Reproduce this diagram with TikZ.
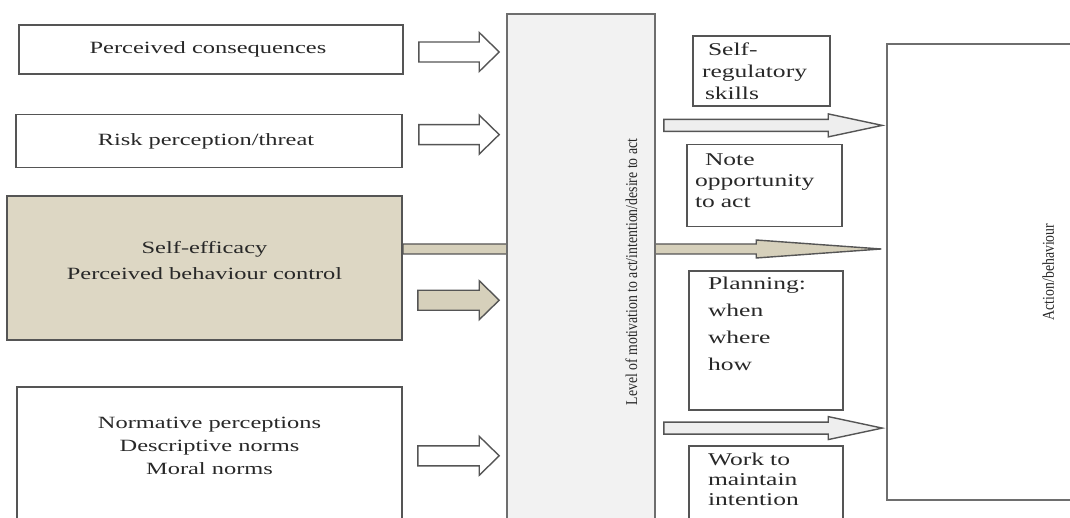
\documentclass[tikz,border=0pt]{standalone}
\usepackage{fontspec}
\setmainfont{Liberation Serif}[FakeStretch=1.42]
\newfontfamily\rotfont{Liberation Serif}
\usetikzlibrary{
  positioning,
  calc,
  backgrounds}

\definecolor{linecolor}{RGB}{85,85,85}
\definecolor{textcolor}{RGB}{40,40,40}
\definecolor{efficacycolor}{RGB}{221,215,196}
\definecolor{tanarrowcolor}{RGB}{214,208,187}
\definecolor{levelcolor}{RGB}{242,242,242}
\definecolor{outarrowcolor}{RGB}{238,238,238}

\tikzset{
  %% block_arrow : a fat arrow, drawn as a closed outline
  %% use as  \draw [in_arrow] (start) to (end);
  ba shaft/.store in=\bashaft,
  ba head/.store in=\bahead,
  ba len/.store in=\balen,
  block_arrow/.style={
    draw=linecolor,
    line width=0.7pt,
    to path={
      let \p1=(\tikztostart), \p2=(\tikztotarget) in
      (\x1, \y1+\bashaft) -- (\x2-\balen, \y1+\bashaft)
      -- (\x2-\balen, \y1+\bahead) -- (\x2, \y1)
      -- (\x2-\balen, \y1-\bahead) -- (\x2-\balen, \y1-\bashaft)
      -- (\x1, \y1-\bashaft) -- cycle
    }
  },
  %% in_arrow : from a belief to the motivation column
  in_arrow/.style={
    block_arrow,
    fill=white,
    ba shaft=5pt,
    ba head=9.75pt,
    ba len=10pt
  },
  %% out_arrow : from the motivation column to the action
  out_arrow/.style={
    block_arrow,
    fill=outarrowcolor,
    ba shaft=3pt,
    ba head=5.75pt,
    ba len=27pt
  },
  %% long_arrow : self-efficacy straight through to the action
  long_arrow/.style={
    block_arrow,
    fill=tanarrowcolor,
    ba shaft=2.5pt,
    ba head=4.5pt,
    ba len=62.5pt
  }
}
\tikzset{
  %% belief : the boxes on the left
  belief/.style={
    rectangle,
    draw=linecolor,
    line width=0.8pt,
    text=textcolor,
    font=\fontsize{8.6}{11.5}\selectfont,
    align=center
  },
  %% strategy : the small boxes between the arrows on the right
  strategy/.style={
    rectangle,
    draw=linecolor,
    line width=0.8pt,
    text=textcolor,
    inner xsep=4pt,
    font=\fontsize{9}{11}\selectfont,
    align=left
  },
  %% column : the two tall boxes
  column/.style={
    rectangle,
    draw=linecolor!85,
    line width=0.8pt,
    text=textcolor,
    font=\rotfont\fontsize{6.9}{8}\selectfont,
    align=center
  }
}

\begin{document}
\begin{tikzpicture}
  [x=0.5pt,
  y=-0.5pt,
  node distance=10pt and 10pt]

  \useasboundingbox (0, 0) rectangle (1070, 518);
  \clip (0, 0) rectangle (1070, 518);

  %% Beliefs
  \node (conseq) [belief, minimum width=192pt, minimum height=24.5pt] at (211, 49.5){%
    Perceived consequences
  };

  \node (risk) [below=19.5pt of conseq, xshift=-1pt, belief,
    minimum width=193pt, minimum height=26.5pt]{%
    Risk perception/threat
  };

  \node (efficacy) [below=13.5pt of risk, xshift=-2.25pt, belief, fill=efficacycolor,
    minimum width=197.5pt, minimum height=72pt,
    font=\fontsize{8.6}{13}\selectfont]{%
    Self-efficacy\\Perceived behaviour control\\[-5.5pt]\mbox{}
  };

  \node (norms) [below=22.5pt of efficacy, xshift=2.5pt, belief,
    minimum width=192.5pt, minimum height=66.5pt]{%
    Normative perceptions\\Descriptive norms\\Moral norms\\[-4.5pt]\mbox{}
  };

  %% Motivation and action
  \node (level) [column, fill=levelcolor, minimum width=74pt, minimum height=258pt]
    at (581, 272){%
    \hspace*{52pt}\rotatebox{90}{\scalebox{1}[1.2]{Level of motivation to act/intention/desire to act}}
  };

  \node (action) [column, fill=white, minimum width=163pt, minimum height=228pt]
    at (1050, 272){%
    \rotatebox{90}{\scalebox{1}[1.2]{Action/behaviour}}
  };

  %% Strategies
  \node (selfreg) [strategy, text width=60.5pt, minimum height=35pt] at (761.5, 71){%
    \hspace*{3.5pt}Self-\\\hspace*{0.5pt}regulatory\\\hspace*{2pt}skills
  };

  \node (note) [below=18.5pt of selfreg, xshift=1.5pt, strategy,
    text width=69.5pt, minimum height=41pt,
    font=\fontsize{9}{10.7}\selectfont]{%
    \hspace*{5pt}Note\\opportunity\\to act\\[-5.7pt]\mbox{}
  };

  \node (planning) [below=21.5pt of note, xshift=0.75pt, strategy, inner xsep=9.5pt,
    inner ysep=0pt, text width=58pt, minimum height=69.5pt,
    font=\fontsize{9}{13.5}\selectfont]{%
    Planning:\\when\\where\\how\\[4pt]\mbox{}
  };

  \node (work) [below=17pt of planning, strategy, inner xsep=9.5pt,
    text width=58pt, minimum height=39.5pt,
    font=\fontsize{9}{10}\selectfont]{%
    Work to\\maintain\\intention\\[-2pt]\mbox{}
  };

  %% Connections
  \coordinate (gap1) at ($(selfreg.south)!0.5!(note.north)$);
  \coordinate (gap2) at ($(note.south)!0.5!(planning.north)$);
  \coordinate (gap3) at ($(planning.south)!0.5!(work.north)$);

  \begin{scope}[on background layer]
    \draw [long_arrow] (efficacy.east |- gap2) to ($(action.west |- gap2)+(-2.5pt, 0)$);
  \end{scope}

  \draw [in_arrow] ($(conseq.east)+(7.5pt, -1.25pt)$) to ($(level.west |- conseq.east)+(-3.5pt, 0)$);
  \draw [in_arrow] ($(risk.east)+(8pt, 3.25pt)$) to ($(level.west |- risk.east)+(-3.5pt, 0)$);
  \draw [in_arrow, fill=tanarrowcolor] ($(efficacy.east)+(7.5pt, -16pt)$) to ($(level.west |- efficacy.east)+(-3.5pt, 0)$);
  \draw [in_arrow] ($(norms.east)+(7.5pt, -1.25pt)$) to ($(level.west |- norms.east)+(-3.5pt, 0)$);

  \draw [out_arrow] ($(level.east |- gap1)+(4pt, 0)$) to ($(action.west |- gap1)+(-2pt, 0)$);
  \draw [out_arrow] ($(level.east |- gap3)+(4pt, 0)$) to ($(action.west |- gap3)+(-2pt, 0)$);

\end{tikzpicture}
\end{document}
